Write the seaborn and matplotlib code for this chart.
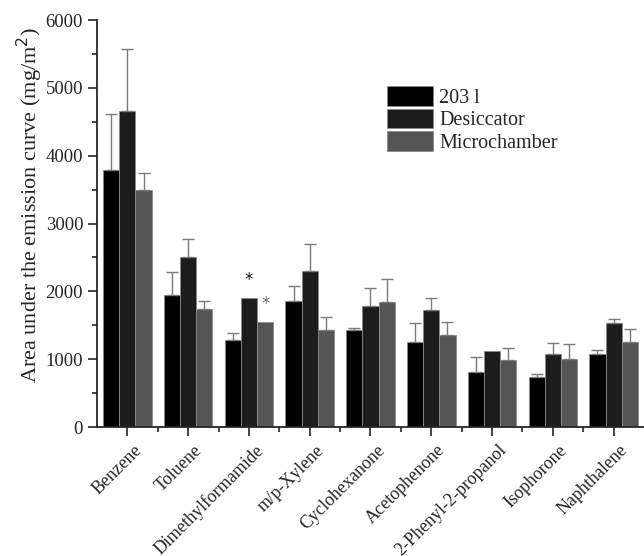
import numpy as np
import pandas as pd
import matplotlib
matplotlib.use('Agg')
import matplotlib.pyplot as plt
import matplotlib.transforms as mtransforms
import seaborn as sns
from matplotlib.ticker import MultipleLocator

# --- Data ---
compounds = ['Benzene', 'Toluene', 'Dimethylformamide', 'm/p-Xylene', 'Cyclohexanone',
             'Acetophenone', '2-Phenyl-2-propanol', 'Isophorone', 'Naphthalene']
methods = ['203 l', 'Desiccator', 'Microchamber']

mean_203l = [3790, 1947, 1278, 1858, 1430, 1249, 816, 742, 1077]
mean_desiccator = [4665, 2503, 1907, 2296, 1785, 1726, 1121, 1072, 1534]
mean_micro = [3491, 1740, 1549, 1426, 1848, 1357, 988, 998, 1258]

err_203l = [826, 334, 103, 226, 35, 280, 211, 35, 54]
err_desiccator = [905, 270, 0, 407, 260, 181, 0, 162, 63]
err_micro = [255, 114, 0, 192, 330, 187, 177, 221, 192]

# significance marks: (compound, method)
stars = [('Dimethylformamide', 'Desiccator'), ('Dimethylformamide', 'Microchamber')]

colors = ['#000000', '#1c1c1c', '#555555']
star_colors = {'Desiccator': '#111111', 'Microchamber': '#666666'}

df = pd.DataFrame({
    'compound': compounds * 3,
    'method': np.repeat(methods, len(compounds)),
    'value': mean_203l + mean_desiccator + mean_micro,
    'err': err_203l + err_desiccator + err_micro,
})

sns.set_style('ticks')
plt.rcParams['font.family'] = ['Liberation Serif', 'DejaVu Serif']

fig = plt.figure(figsize=(6.44, 5.56), dpi=100)
ax = fig.add_axes([0.1506, 0.232, 0.8494, 0.732])

sns.barplot(data=df, x='compound', y='value', hue='method', order=compounds,
            hue_order=methods, palette=colors, errorbar=None, width=0.8,
            edgecolor='#8a8a8a', linewidth=0.6, saturation=1, ax=ax)

# error bars (upper half only), placed on the bars seaborn drew
bars = [p for p in ax.patches if p.get_height() > 0][:len(df)]
for bar, (_, row) in zip(bars, df.iterrows()):
    cx = bar.get_x() + bar.get_width() / 2
    top = bar.get_height()
    if row['err'] > 0:
        ax.errorbar(cx, top, yerr=[[0], [row['err']]], fmt='none',
                    ecolor='#7a7a7a', elinewidth=1.0, capsize=4, capthick=1.0)
    if (row['compound'], row['method']) in stars:
        ax.text(cx, top + 130, '*', ha='center', va='bottom', fontsize=12,
                color=star_colors[row['method']], family='DejaVu Sans')

ax.set_xlim(-0.5, len(compounds) - 0.5)
ax.set_ylim(0, 6000)
ax.yaxis.set_major_locator(MultipleLocator(1000))
ax.yaxis.set_minor_locator(MultipleLocator(500))
ax.set_xticks(range(len(compounds)))
ax.set_xticks(np.arange(0.5, len(compounds) - 0.5, 1), minor=True)
ax.set_xticklabels(compounds, rotation=45, ha='right', rotation_mode='anchor', fontsize=13)
ax.tick_params(axis='both', which='major', direction='out', length=6.5, width=1.2)
ax.tick_params(axis='y', which='major', labelsize=13.5)
ax.tick_params(axis='x', which='major', pad=4)
ax.tick_params(axis='both', which='minor', direction='out', length=3.5, width=1.2)

# nudge rotated labels a little to the right, like the original
shift = mtransforms.ScaledTranslation(4 / 72, 0, fig.dpi_scale_trans)
for lbl in ax.get_xticklabels():
    lbl.set_transform(lbl.get_transform() + shift)

ax.set_xlabel('')
ax.set_ylabel('Area under the emission curve (mg/m$^2$)', fontsize=16)
ax.yaxis.set_label_coords(-0.095, 0.545)
for side in ['top', 'right']:
    ax.spines[side].set_visible(False)
for side in ['left', 'bottom']:
    ax.spines[side].set_linewidth(1.3)

handles, labels = ax.get_legend_handles_labels()
ax.legend(handles, labels, loc='upper left', bbox_to_anchor=(0.515, 0.857),
          frameon=False, fontsize=14.5, handlelength=2.3, handleheight=1.1,
          handletextpad=0.3, labelspacing=0.05, borderaxespad=0)

fig.savefig('out.png', dpi=100)
